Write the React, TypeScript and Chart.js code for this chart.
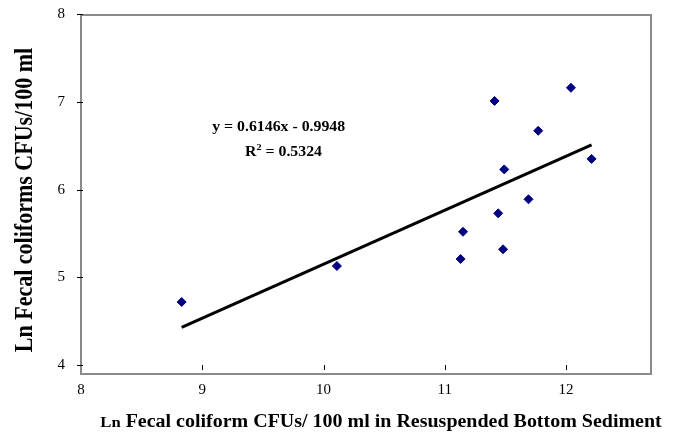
import React, { useEffect, useRef } from 'react';
import { Chart, registerables } from 'chart.js';

Chart.register(...registerables);

// Ln fecal coliform CFUs/100 ml in resuspended bottom sediment (x) vs water column (y)
const sedimentLn = [11.41, 12.04, 11.77, 12.21, 11.49, 11.69, 11.44, 11.15, 11.48, 11.13, 8.83, 10.11];
const fecalLn = [7.01, 7.16, 6.67, 6.35, 6.23, 5.89, 5.73, 5.52, 5.32, 5.21, 4.72, 5.13];

// Linear trendline end points
const trendX = [8.83, 12.21];
const trendY = [4.43, 6.51];

const xTicks = [8, 9, 10, 11, 12];
const yTicks = [4, 5, 6, 7, 8];

const equationText = 'y = 0.6146x - 0.9948';
const r2Base = 'R';
const r2Sup = '2';
const r2Rest = ' = 0.5324';
const equationPos = { x: 9.63, y: 6.713 };
const r2Pos = { x: 9.67, y: 6.42 };

const xTitleSmall = 'Ln';
const xTitleRest = ' Fecal coliform CFUs/ 100 ml in Resuspended Bottom Sediment';
const yTitle = 'Ln Fecal coliforms CFUs/100 ml';

const SERIF = '"Liberation Serif", "Times New Roman", serif';
const STRETCH = 1.13;
const TITLE_STRETCH = 1.11;

const decorPlugin = {
  id: 'decor',
  afterDraw(chart: any) {
    const { ctx, chartArea: a, scales } = chart;
    const x = scales.x;
    const y = scales.y;
    ctx.save();
    // plot border
    ctx.strokeStyle = '#8a8a8a';
    ctx.lineWidth = 2;
    ctx.strokeRect(a.left, a.top + 1, a.right - a.left, a.bottom - a.top - 1);

    // y tick marks
    ctx.strokeStyle = '#000';
    ctx.lineWidth = 1;
    ctx.beginPath();
    yTicks.forEach((v) => {
      const py = Math.round(y.getPixelForValue(v)) + 0.5;
      ctx.moveTo(a.left - 4, py);
      ctx.lineTo(a.left + 2, py);
    });
    // x tick marks (at the y = 4 level)
    const baseY = Math.round(y.getPixelForValue(yTicks[0]));
    xTicks.slice(1).forEach((v) => {
      const px = Math.round(x.getPixelForValue(v)) + 0.5;
      ctx.moveTo(px, baseY);
      ctx.lineTo(px, baseY + 5);
    });
    ctx.stroke();

    ctx.fillStyle = '#000';

    // equation
    ctx.save();
    ctx.translate(x.getPixelForValue(equationPos.x), y.getPixelForValue(equationPos.y));
    ctx.scale(STRETCH, 1);
    ctx.font = `bold 14px ${SERIF}`;
    ctx.textAlign = 'center';
    ctx.textBaseline = 'middle';
    ctx.fillText(equationText, 0, 0);
    ctx.restore();

    // R^2
    ctx.save();
    ctx.translate(x.getPixelForValue(r2Pos.x), y.getPixelForValue(r2Pos.y));
    ctx.scale(STRETCH, 1);
    ctx.textAlign = 'left';
    ctx.textBaseline = 'middle';
    ctx.font = `bold 14px ${SERIF}`;
    const wR = ctx.measureText(r2Base).width;
    const wRest = ctx.measureText(r2Rest).width;
    ctx.font = `bold 9px ${SERIF}`;
    const wSup = ctx.measureText(r2Sup).width;
    let sx = -(wR + wSup + wRest) / 2;
    ctx.font = `bold 14px ${SERIF}`;
    ctx.fillText(r2Base, sx, 0);
    sx += wR;
    ctx.font = `bold 9px ${SERIF}`;
    ctx.fillText(r2Sup, sx, -5);
    sx += wSup;
    ctx.font = `bold 14px ${SERIF}`;
    ctx.fillText(r2Rest, sx, 0);
    ctx.restore();

    // x title
    ctx.save();
    ctx.textBaseline = 'alphabetic';
    ctx.textAlign = 'left';
    ctx.font = `bold 15px ${SERIF}`;
    const wSmall = ctx.measureText(xTitleSmall).width;
    ctx.font = `bold 18px ${SERIF}`;
    const wBig = ctx.measureText(xTitleRest).width;
    ctx.translate(381 - ((wSmall + wBig) * TITLE_STRETCH) / 2, 427);
    ctx.scale(TITLE_STRETCH, 1);
    ctx.font = `bold 15px ${SERIF}`;
    ctx.fillText(xTitleSmall, 0, 0);
    ctx.font = `bold 18px ${SERIF}`;
    ctx.fillText(xTitleRest, wSmall, 0);
    ctx.restore();

    // y title
    ctx.save();
    ctx.translate(32, 200);
    ctx.rotate(-Math.PI / 2);
    ctx.scale(1, STRETCH);
    ctx.textAlign = 'center';
    ctx.textBaseline = 'alphabetic';
    ctx.font = `bold 22px ${SERIF}`;
    ctx.fillText(yTitle, 0, 0);
    ctx.restore();

    ctx.restore();
  },
};

export default function App() {
  const ref = useRef<HTMLCanvasElement>(null);

  useEffect(() => {
    if (!ref.current) return;
    const chart = new Chart(ref.current, {
      type: 'scatter',
      data: {
        datasets: [
          {
            label: 'Data',
            data: sedimentLn.map((v, i) => ({ x: v, y: fecalLn[i] })),
            pointStyle: 'rectRot',
            pointRadius: 4.5,
            pointHoverRadius: 4.5,
            backgroundColor: '#000080',
            borderColor: '#000080',
            borderWidth: 1,
            showLine: false,
            order: 1,
          },
          {
            label: 'Trend',
            data: trendX.map((v, i) => ({ x: v, y: trendY[i] })),
            showLine: true,
            borderColor: '#000',
            borderWidth: 3,
            pointRadius: 0,
            fill: false,
            order: 2,
          },
        ],
      },
      options: {
        animation: false,
        responsive: false,
        devicePixelRatio: 1,
        layout: { padding: { top: 14, right: 22, left: 0, bottom: 0 } },
        plugins: { legend: { display: false }, tooltip: { enabled: false } },
        scales: {
          x: {
            type: 'linear',
            min: 8,
            max: 12.7,
            afterFit: (s: any) => { s.height = 59; s.paddingLeft = 0; s.paddingRight = 0; },
            afterBuildTicks: (s: any) => { s.ticks = xTicks.map((v) => ({ value: v })); },
            grid: { display: false, drawTicks: true, tickLength: 5 },
            border: { display: false },
            ticks: {
              color: '#000',
              padding: 2,
              font: { family: SERIF, size: 15 },
              maxRotation: 0,
            },
          },
          y: {
            type: 'linear',
            min: 3.9,
            max: 8,
            afterFit: (s: any) => { s.width = 81; s.paddingTop = 0; s.paddingBottom = 0; },
            afterBuildTicks: (s: any) => { s.ticks = yTicks.map((v) => ({ value: v })); },
            grid: { display: false, drawTicks: true, tickLength: 5 },
            border: { display: false },
            ticks: {
              color: '#000',
              padding: 11,
              font: { family: SERIF, size: 15 },
            },
          },
        },
      },
      plugins: [decorPlugin],
    });
    return () => chart.destroy();
  }, []);

  return (
    <div style={{ position: 'absolute', left: 0, top: 0, width: 673, height: 433, background: '#fff' }}>
      <canvas ref={ref} width={673} height={433} style={{ display: 'block' }} />
    </div>
  );
}
